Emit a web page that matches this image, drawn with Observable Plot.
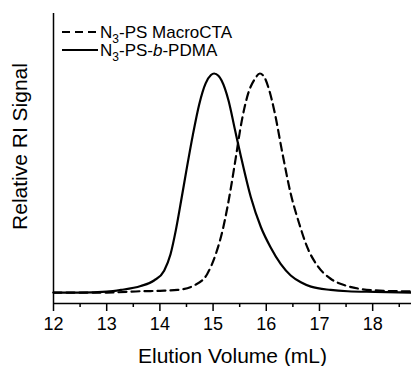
<!DOCTYPE html>
<html><head><meta charset="utf-8">
<script src="https://cdn.jsdelivr.net/npm/d3@7"></script>
<script src="https://cdn.jsdelivr.net/npm/@observablehq/plot@0.6"></script>
<style>
body{margin:0;background:#fff}
svg{font-family:Arial,"Liberation Sans",sans-serif}
</style>
</head><body><div id="chart"></div>
<script>
// Solid: N3-PS-b-PDMA
const volumeBlock = [12.0,12.5,13.0,13.27,13.64,13.89,14.08,14.20,14.30,14.40,14.50,14.62,14.74,14.86,14.96,15.02,15.10,15.16,15.29,15.41,15.52,15.71,15.90,16.08,16.27,16.46,16.65,16.84,17.21,17.53,18.04,18.73];
const signalBlock = [0.0,0.0,0.004,0.012,0.030,0.055,0.100,0.175,0.285,0.420,0.560,0.720,0.860,0.955,0.993,1.0,0.990,0.968,0.877,0.745,0.625,0.435,0.298,0.207,0.131,0.078,0.047,0.027,0.012,0.006,0.003,0.0];
// Dashed: N3-PS MacroCTA
const volumeMacro = [12.0,13.0,13.64,14.0,14.33,14.64,14.89,15.05,15.18,15.27,15.35,15.41,15.54,15.66,15.79,15.88,15.96,16.04,16.16,16.30,16.46,16.62,16.77,16.96,17.21,17.49,17.73,18.04,18.73];
const signalMacro = [0.0,0.0,0.006,0.008,0.012,0.032,0.085,0.175,0.285,0.390,0.500,0.590,0.785,0.909,0.977,1.0,0.985,0.936,0.820,0.640,0.451,0.314,0.207,0.123,0.063,0.032,0.018,0.010,0.005];

const xTicks = [12,13,14,15,16,17,18];
const xMinorTicks = [12.5,13.5,14.5,15.5,16.5,17.5,18.5];
const xDomain = [12, 18.73];
const yDomain = [-0.05, 1.274];
const xLabel = "Elution Volume (mL)";
const yLabel = "Relative RI Signal";

const block = volumeBlock.map((v,i)=>({v, s: signalBlock[i]}));
const macro = volumeMacro.map((v,i)=>({v, s: signalMacro[i]}));

const plot = Plot.plot({
  width: 411, height: 366,
  marginLeft: 53, marginRight: 0, marginTop: 13, marginBottom: 63,
  x: {domain: xDomain, axis: null},
  y: {domain: yDomain, axis: null},
  style: {fontFamily: "Arial, 'Liberation Sans', sans-serif", color: "#000"},
  marks: [
    Plot.axisX({ticks: xTicks, tickFormat: d3.format("d"), tickSize: 8, tickPadding: 6, fontSize: 18, label: null, strokeWidth: 1.5}),
    Plot.axisX({ticks: xMinorTicks, tickSize: 4, text: null, label: null, strokeWidth: 1.5}),
    Plot.ruleY([yDomain[0]], {stroke: "#000", strokeWidth: 1.5}),
    Plot.ruleX([xDomain[0]], {stroke: "#000", strokeWidth: 1.5}),
    Plot.line(macro, {x: "v", y: "s", curve: "monotone-x", stroke: "#000", strokeWidth: 2.2, strokeDasharray: "8,5"}),
    Plot.line(block, {x: "v", y: "s", curve: "monotone-x", stroke: "#000", strokeWidth: 2.2}),
    Plot.text([xLabel], {frameAnchor: "bottom", dy: 53, fontSize: 21, lineAnchor: "middle"}),
    Plot.text([yLabel], {frameAnchor: "left", textAnchor: "middle", rotate: -90, dx: -33, dy: -12, fontSize: 21, lineAnchor: "middle"})
  ]
});
document.getElementById("chart").appendChild(plot);

// Legend
const svg = d3.select(plot);
const lg = svg.append("g").attr("font-size", 17).attr("fill", "#000").attr("text-anchor", "start");
const entries = [
  {y: 32, dash: "8,5", parts: [["N",""],["3","sub"],["-PS MacroCTA",""]]},
  {y: 50, dash: null, parts: [["N",""],["3","sub"],["-PS-",""],["b","it"],["-PDMA",""]]}
];
entries.forEach(e => {
  lg.append("line").attr("x1", 62).attr("x2", 98).attr("y1", e.y).attr("y2", e.y)
    .attr("stroke", "#000").attr("stroke-width", 2.2).attr("stroke-dasharray", e.dash);
  const t = lg.append("text").attr("x", 100).attr("y", e.y + 6);
  let prevSub = false;
  e.parts.forEach(([s, k]) => {
    const ts = t.append("tspan").text(s);
    if (k === "sub") { ts.attr("font-size", 12).attr("dy", 5); prevSub = true; return; }
    if (prevSub) { ts.attr("dy", -5); prevSub = false; }
    if (k === "it") ts.attr("font-style", "italic");
  });
});
</script>
</body></html>
